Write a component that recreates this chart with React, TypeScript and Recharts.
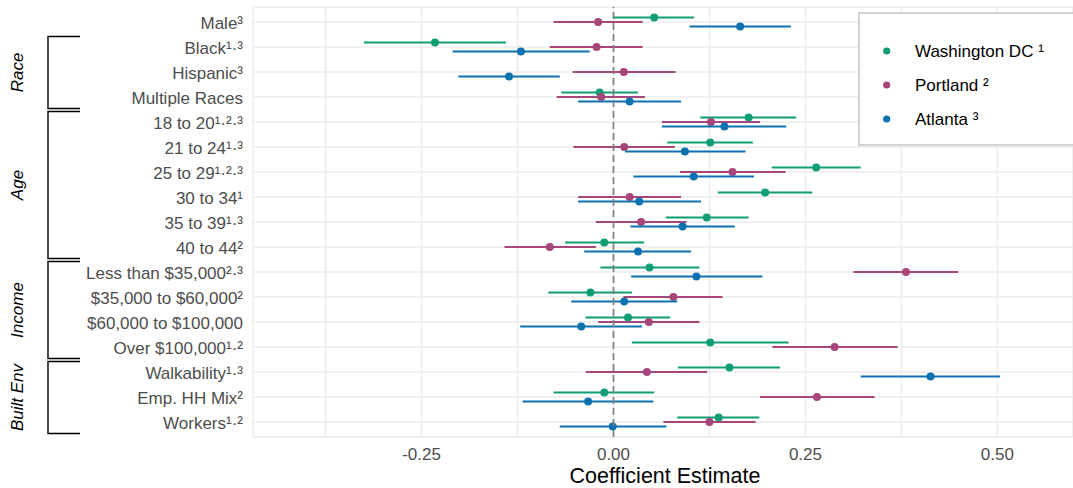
import React from "react";
import { ComposedChart, Bar, XAxis, YAxis, CartesianGrid, ReferenceLine, Legend } from "recharts";

const labels = [
  "Male³", "Black¹·³", "Hispanic³", "Multiple Races",
  "18 to 20¹·²·³", "21 to 24¹·³", "25 to 29¹·²·³", "30 to 34¹", "35 to 39¹·³", "40 to 44²",
  "Less than $35,000²·³", "$35,000 to $60,000²", "$60,000 to $100,000", "Over $100,000¹·²",
  "Walkability¹·³", "Emp. HH Mix²", "Workers¹·²",
];

const seriesNames = ["Washington DC ¹", "Portland ²", "Atlanta ³"];

const dcEst = [0.053, -0.2325, null, -0.018, 0.176, 0.126, 0.264, 0.1975, 0.1215, -0.012, 0.047, -0.030, 0.019, 0.126, 0.151, -0.012, 0.137];
const dcLo = [0.000, -0.325, null, -0.068, 0.113, 0.070, 0.206, 0.136, 0.068, -0.063, -0.017, -0.085, -0.0365, 0.024, 0.084, -0.078, 0.083];
const dcHi = [0.105, -0.140, null, 0.032, 0.238, 0.1815, 0.322, 0.259, 0.176, 0.040, 0.112, 0.024, 0.074, 0.228, 0.217, 0.053, 0.190];

const pdxEst = [-0.020, -0.022, 0.0135, -0.016, 0.127, 0.014, 0.155, 0.021, 0.036, -0.083, 0.381, 0.078, 0.046, 0.288, 0.0435, 0.265, 0.125];
const pdxLo = [-0.078, -0.083, -0.053, -0.074, 0.063, -0.052, 0.0865, -0.046, -0.023, -0.142, 0.3125, 0.013, -0.020, 0.207, -0.036, 0.191, 0.065];
const pdxHi = [0.038, 0.038, 0.081, 0.041, 0.191, 0.080, 0.224, 0.088, 0.095, -0.023, 0.449, 0.142, 0.112, 0.370, 0.122, 0.340, 0.185];

const atlEst = [0.165, -0.1206, -0.136, 0.021, 0.1445, 0.093, 0.1045, 0.0335, 0.090, 0.032, 0.108, 0.014, -0.042, null, 0.413, -0.033, -0.001];
const atlLo = [0.099, -0.2096, -0.202, -0.046, 0.063, 0.015, 0.026, -0.046, 0.022, -0.038, 0.023, -0.055, -0.1215, null, 0.322, -0.1185, -0.070];
const atlHi = [0.231, -0.031, -0.070, 0.088, 0.225, 0.172, 0.183, 0.114, 0.158, 0.101, 0.194, 0.083, 0.037, null, 0.5035, 0.052, 0.069];

const groups = [
  { name: "Race", from: 1, to: 3 },
  { name: "Age", from: 4, to: 9 },
  { name: "Income", from: 10, to: 13 },
  { name: "Built Env", from: 14, to: 16 },
];

const xTicks = [-0.375, -0.25, -0.125, 0, 0.125, 0.25, 0.375, 0.5];
const majorTicks = [-0.25, 0, 0.25, 0.5];

const COLORS = { dc: "#119E76", pdx: "#A6467A", atl: "#0E71B0" };
const FONT = "'Liberation Sans', Arial, Helvetica, sans-serif";

const data = labels.map((label, i) => ({
  label,
  dcEst: dcEst[i], dcLo: dcLo[i], dcHi: dcHi[i],
  pdxEst: pdxEst[i], pdxLo: pdxLo[i], pdxHi: pdxHi[i],
  atlEst: atlEst[i], atlLo: atlLo[i], atlHi: atlHi[i],
}));

const W = 1073;
const H = 488;
const MARGIN = { top: 7, right: 0, bottom: 21, left: 0 };
const Y_AXIS_W = 253;
const X_AXIS_H = 30;
const Y_PAD = 2.5;
const plotTop = MARGIN.top;
const plotBottom = H - MARGIN.bottom - X_AXIS_H;
const band = (plotBottom - plotTop - 2 * Y_PAD) / labels.length;
const rowY = (i: number) => plotTop + Y_PAD + band * i + band / 2;

function makeShape(key: "dc" | "pdx" | "atl") {
  return (props: any) => {
    const { x, y, width, height, payload, fill } = props;
    const est = payload[key + "Est"];
    const lo = payload[key + "Lo"];
    const hi = payload[key + "Hi"];
    if (est == null || lo == null || hi == null || !isFinite(x) || !isFinite(width)) return <g />;
    const cy = y + height / 2;
    const cx = x + (width * (est - lo)) / (hi - lo);
    return (
      <g>
        <line x1={x} x2={x + width} y1={cy} y2={cy} stroke={fill} strokeWidth={2} />
        <circle cx={cx} cy={cy} r={4} fill={fill} />
      </g>
    );
  };
}

const YTick = (props: any) => {
  const { x, y, payload } = props;
  return (
    <text x={x} y={y} dy={6.5} textAnchor="end" fill="#4d4d4d" fontSize={17} fontFamily={FONT}>
      {payload.value}
    </text>
  );
};

const XTick = (props: any) => {
  const { x, y, payload } = props;
  if (!majorTicks.includes(payload.value)) return <g />;
  return (
    <text x={x} y={y} dy={12} textAnchor="middle" fill="#4d4d4d" fontSize={17} fontFamily={FONT}>
      {payload.value.toFixed(2)}
    </text>
  );
};

const LegendBox = (props: any) => {
  const payload = [...(props.payload || [])].sort(
    (a: any, b: any) => seriesNames.indexOf(a.value) - seriesNames.indexOf(b.value)
  );
  return (
    <svg width={W - 858} height={136} style={{ display: "block" }}>
      <rect x={1} y={1} width={260} height={132} fill="#ffffff" stroke="#d2d2d2" strokeWidth={2} />
      {payload.map((p: any, i: number) => (
        <g key={i}>
          <circle cx={28.7} cy={39 + i * 34} r={3.6} fill={p.color} />
          <text x={57} y={39 + i * 34} dy={6.2} fontSize={17} fontFamily={FONT} fill="#000000">
            {p.value}
          </text>
        </g>
      ))}
    </svg>
  );
};

export default function App() {
  return (
    <div style={{ position: "absolute", left: 0, top: 0, width: W, height: H, overflow: "hidden", background: "#ffffff" }}>
      <ComposedChart
        width={W}
        height={H}
        data={data}
        layout="vertical"
        margin={MARGIN}
        barGap={2.5}
      >
        <CartesianGrid stroke="#ebebeb" strokeWidth={1.4} />
        <XAxis
          type="number"
          domain={[-0.4695, 0.5985]}
          allowDataOverflow
          ticks={xTicks}
          interval={0}
          height={X_AXIS_H}
          axisLine={false}
          tickLine={false}
          tickSize={0}
          tickMargin={11}
          tick={<XTick />}
        />
        <YAxis
          type="category"
          dataKey="label"
          width={Y_AXIS_W}
          interval={0}
          axisLine={false}
          tickLine={false}
          tickSize={0}
          tickMargin={10}
          padding={{ top: Y_PAD, bottom: Y_PAD }}
          tick={<YTick />}
        />
        <ReferenceLine x={0} stroke="#7f7f7f" strokeWidth={1.7} strokeDasharray="7 4" />
        <Bar
          dataKey={(d: any) => (d.dcLo == null ? null : [d.dcLo, d.dcHi])}
          name={seriesNames[0]}
          fill={COLORS.dc}
          barSize={2}
          shape={makeShape("dc")}
          isAnimationActive={false}
        />
        <Bar
          dataKey={(d: any) => (d.pdxLo == null ? null : [d.pdxLo, d.pdxHi])}
          name={seriesNames[1]}
          fill={COLORS.pdx}
          barSize={2}
          shape={makeShape("pdx")}
          isAnimationActive={false}
        />
        <Bar
          dataKey={(d: any) => (d.atlLo == null ? null : [d.atlLo, d.atlHi])}
          name={seriesNames[2]}
          fill={COLORS.atl}
          barSize={2}
          shape={makeShape("atl")}
          isAnimationActive={false}
        />
        <Legend
          layout="horizontal"
          verticalAlign="middle"
          align="center"
          content={<LegendBox />}
          wrapperStyle={{ position: "absolute", top: 12, left: 858, width: W - 858, height: 136 }}
        />
      </ComposedChart>
      <svg
        width={W}
        height={H}
        style={{ position: "absolute", left: 0, top: 0, pointerEvents: "none" }}
      >
        {groups.map((g) => {
          const top = rowY(g.from) - 10.5;
          const bottom = rowY(g.to) + 11.5;
          const mid = (top + bottom) / 2;
          return (
            <g key={g.name}>
              <polyline
                points={`80,${top} 48,${top} 48,${bottom} 80,${bottom}`}
                fill="none"
                stroke="#000000"
                strokeWidth={1.4}
              />
              <text
                x={17}
                y={mid}
                dy={6}
                transform={`rotate(-90, 17, ${mid})`}
                textAnchor="middle"
                fontSize={17}
                fontStyle="italic"
                fontFamily={FONT}
                fill="#000000"
              >
                {g.name}
              </text>
            </g>
          );
        })}
        <text x={665} y={483} textAnchor="middle" fontSize={21.5} fontFamily={FONT} fill="#000000">
          Coefficient Estimate
        </text>
      </svg>
    </div>
  );
}
